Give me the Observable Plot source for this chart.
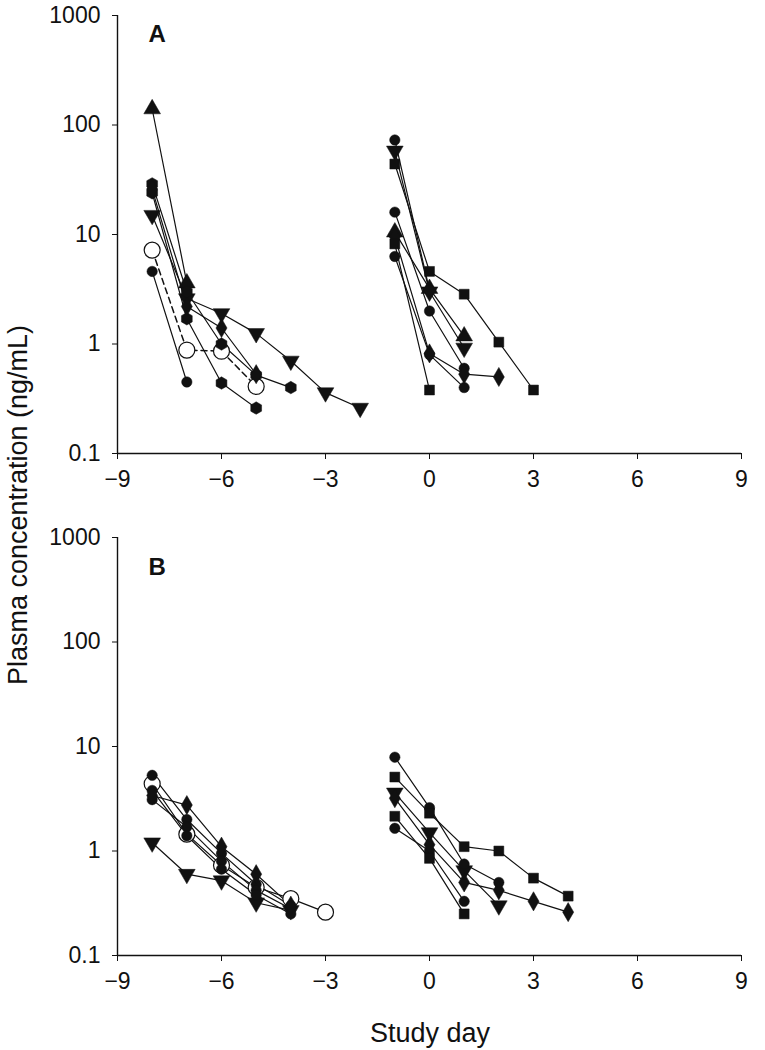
<!DOCTYPE html>
<html><head><meta charset="utf-8">
<script src="https://cdn.jsdelivr.net/npm/d3@7"></script>
<script src="https://cdn.jsdelivr.net/npm/@observablehq/plot@0.6"></script>
<style>
body{margin:0;background:#fff;font-family:"Liberation Sans",Arial,sans-serif;}
#wrap{position:relative;width:765px;height:1050px;overflow:hidden;background:#fff;}
#wrap svg{position:absolute;left:0;}
.lab{position:absolute;font-family:"Liberation Sans",Arial,sans-serif;color:#111;white-space:nowrap;}
</style></head><body><div id="wrap"></div>
<script>
// ---- data: [study day, plasma concentration ng/mL] ----
const xTicks = [-9, -6, -3, 0, 3, 6, 9];
const yTicks = [0.1, 1, 10, 100, 1000];
const yTickLabels = ["0.1", "1", "10", "100", "1000"];

// Panel A, first course
const aTriUpL   = [[-8,140],[-7,3.6]];
const aHexL1    = [[-8,29],[-7,3.0],[-6,1.0],[-5,0.52],[-4,0.40]];
const aDiamondL = [[-8,26],[-7,2.2],[-6,1.4],[-5,0.53]];
const aHexL2    = [[-8,24],[-7,1.7],[-6,0.44],[-5,0.26]];
const aCircleL  = [[-8,4.6],[-7,0.45]];
const aOpenL    = [[-8,7.2],[-7,0.88],[-6,0.86],[-5,0.41]];
const aTriDownL = [[-8,15],[-7,2.6],[-6,1.9],[-5,1.25],[-4,0.7],[-3,0.36],[-2,0.26]];
// Panel A, second course
const aSquareR1 = [[-1,44],[0,4.6],[1,2.85],[2,1.04],[3,0.38]];
const aSquareR2 = [[-1,8.2],[0,0.38]];
const aTriDownR = [[-1,58],[0,3.0],[1,0.92]];
const aTriUpR   = [[-1,10.5],[0,3.2],[1,1.18]];
const aCircleR1 = [[-1,73],[0,3.1]];
const aCircleR2 = [[-1,16],[0,2.0],[1,0.6]];
const aCircleR3 = [[-1,6.3],[0,0.8],[1,0.4]];
const aDiamondR = [[-1,9.5],[0,0.82],[1,0.53],[2,0.5]];

// Panel B, first course
const bOpenL    = [[-8,4.4],[-7,1.45],[-6,0.73],[-5,0.45],[-4,0.35],[-3,0.26]];
const bTriDownL = [[-8,1.2],[-7,0.6],[-6,0.52],[-5,0.32],[-4,0.27]];
const bDiamondL = [[-8,3.4],[-7,2.75],[-6,1.1],[-5,0.6],[-4,0.3]];
const bCircleL1 = [[-8,5.3],[-7,2.0],[-6,0.95],[-5,0.48],[-4,0.3]];
const bCircleL2 = [[-8,3.1],[-7,1.7],[-6,0.8],[-5,0.42],[-4,0.28]];
const bCircleL3 = [[-8,3.8],[-7,1.4],[-6,0.67],[-5,0.38],[-4,0.25]];
// Panel B, second course
const bCircleR1 = [[-1,7.9],[0,2.6],[1,0.75],[2,0.5]];
const bSquareR1 = [[-1,5.1],[0,2.3],[1,1.1],[2,1.0],[3,0.55],[4,0.37]];
const bTriDownR = [[-1,3.6],[0,1.5],[1,0.65],[2,0.3]];
const bDiamondR = [[-1,3.2],[0,1.15],[1,0.5],[2,0.42],[3,0.33],[4,0.26]];
const bSquareR2 = [[-1,2.15],[0,0.85],[1,0.25]];
const bCircleR2 = [[-1,1.65],[0,1.0],[1,0.33]];

// series registry: [id, data, marker]
const seriesA = [
  ["a1", aTriUpL, "triUp"], ["a2", aHexL1, "hex"], ["a3", aDiamondL, "diamond"],
  ["a4", aHexL2, "hex"], ["a5", aCircleL, "circle"], ["a6", aOpenL, "open"],
  ["a7", aTriDownL, "triDown"],
  ["a8", aSquareR1, "square"], ["a9", aSquareR2, "square"], ["a10", aTriDownR, "triDown"],
  ["a11", aTriUpR, "triUp"], ["a12", aCircleR1, "circle"], ["a13", aCircleR2, "circle"],
  ["a14", aCircleR3, "circle"], ["a15", aDiamondR, "diamond"]
];
const seriesB = [
  ["b1", bOpenL, "open"], ["b2", bTriDownL, "triDown"], ["b3", bDiamondL, "diamond"],
  ["b4", bCircleL1, "circle"], ["b5", bCircleL2, "circle"], ["b6", bCircleL3, "circle"],
  ["b7", bCircleR1, "circle"], ["b8", bSquareR1, "square"], ["b9", bTriDownR, "triDown"],
  ["b10", bDiamondR, "diamond"], ["b11", bSquareR2, "square"], ["b12", bCircleR2, "circle"]
];

// ---- styles ----
const triangleDown = {
  draw(ctx, size) {
    const y = -Math.sqrt(size / (Math.sqrt(3) * 3));
    ctx.moveTo(0, -y * 2);
    ctx.lineTo(-Math.sqrt(3) * y, y);
    ctx.lineTo(Math.sqrt(3) * y, y);
    ctx.closePath();
  }
};
const SYM = {
  triUp: {symbol: "triangle", r: 6.2},
  triDown: {symbol: triangleDown, r: 6.2},
  circle: {symbol: "circle", r: 5.2},
  hex: {symbol: "hexagon", r: 5.4},
  diamond: {symbol: "diamond", r: 5.8},
  square: {symbol: "square", r: 5.6}
};

function rows(series) {
  const out = [];
  for (const [id, data, marker] of series)
    for (const [day, conc] of data) out.push({id, marker, day, conc});
  return out;
}

function panel(series, letter, opts) {
  const data = rows(series);
  const dashedIds = opts.dashed;
  const marks = [
    Plot.ruleX([-9], {stroke: "#111", strokeWidth: 1.4}),
    Plot.ruleY([0.1], {stroke: "#111", strokeWidth: 1.4}),
    Plot.axisY({ticks: yTicks, tickFormat: (d) => yTickLabels[yTicks.indexOf(d)], tickSize: 5, tickPadding: 12, label: null, stroke: "#111"}),
    Plot.axisX({ticks: xTicks, tickSize: 6, tickPadding: 11, label: null, stroke: "#111"}),
    Plot.line(data.filter(d => !dashedIds.includes(d.id)), {x: "day", y: "conc", z: "id", stroke: "#111", strokeWidth: 1.2}),
    Plot.line(data.filter(d => dashedIds.includes(d.id)), {x: "day", y: "conc", z: "id", stroke: "#111", strokeWidth: 1.5, strokeDasharray: "6,4"}),
    Plot.dot(data.filter(d => d.marker === "open"), {x: "day", y: "conc", symbol: "circle", r: 8, fill: "white", stroke: "#111", strokeWidth: 1.2})
  ];
  for (const k of Object.keys(SYM)) {
    marks.push(Plot.dot(data.filter(d => d.marker === k), {x: "day", y: "conc", symbol: SYM[k].symbol, r: SYM[k].r, fill: "#111", stroke: "#111", strokeWidth: 0.5}));
  }
  marks.push(Plot.text([letter], {frameAnchor: "top-left", textAnchor: "start", lineAnchor: "top", dx: 31, dy: opts.letterDy, fontWeight: "bold", fontSize: 24, fill: "#111"}));
  return Plot.plot({
    width: 765, height: opts.height,
    marginLeft: 117, marginRight: 24, marginTop: opts.mt, marginBottom: opts.mb,
    x: {domain: [-9, 9]},
    y: {type: "log", domain: [0.1, 1000]},
    style: {fontFamily: "'Liberation Sans', Arial, sans-serif", fontSize: "23px", color: "#111", background: "white"},
    marks
  });
}

const wrap = document.getElementById("wrap");
const pA = panel(seriesA, "A", {height: 500, mt: 15, mb: 47, letterDy: 9, dashed: ["a6"]});
pA.style.top = "0px";
wrap.appendChild(pA);
const pB = panel(seriesB, "B", {height: 500, mt: 17, mb: 65, letterDy: 20, dashed: []});
pB.style.top = "520px";
wrap.appendChild(pB);

const yl = document.createElement("div");
yl.className = "lab";
yl.textContent = "Plasma concentration (ng/mL)";
yl.style.fontSize = "27px";
yl.style.left = "18px";
yl.style.top = "505px";
yl.style.transform = "translate(-50%,-50%) rotate(-90deg)";
wrap.appendChild(yl);

const xl = document.createElement("div");
xl.className = "lab";
xl.textContent = "Study day";
xl.style.fontSize = "27px";
xl.style.left = "430px";
xl.style.top = "1033px";
xl.style.transform = "translate(-50%,-50%)";
wrap.appendChild(xl);
</script>
</body></html>
